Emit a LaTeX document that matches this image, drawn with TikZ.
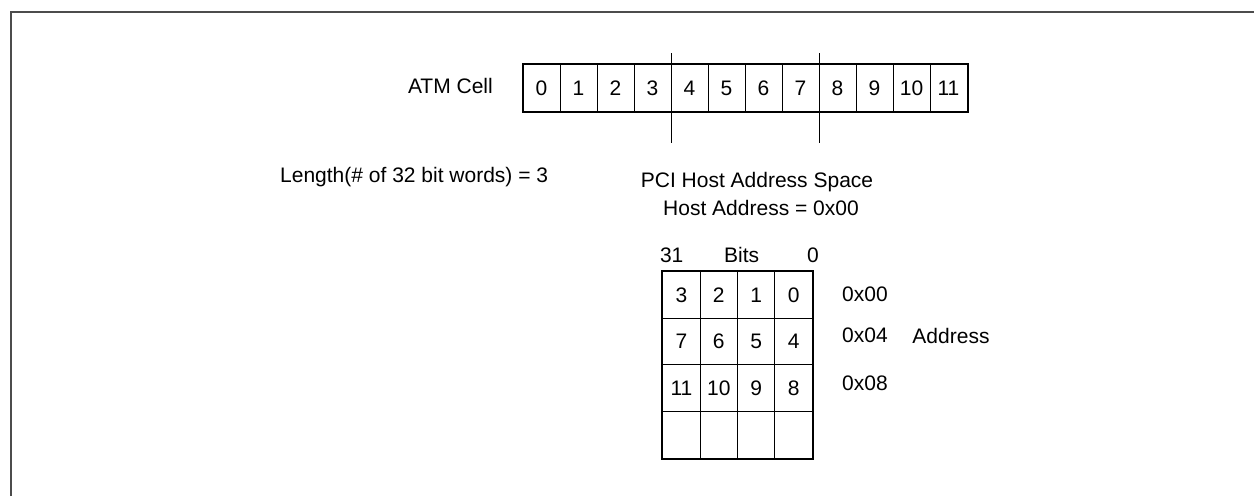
\documentclass[tikz,border=0pt]{standalone}
\usepackage{fontspec}
\setmainfont{Liberation Sans}
\begin{document}
\begin{tikzpicture}[x=1pt,y=-1pt,
  every node/.style={font=\fontsize{21}{25}\selectfont},
  txt/.style={inner sep=0pt},
  acell/.style={draw=black,line width=1pt,minimum width=37pt,minimum height=47.7pt,inner sep=0pt,anchor=center},
  gcell/.style={draw=black,line width=1pt,minimum width=37.4pt,minimum height=46.65pt,inner sep=0pt,anchor=center},
  frame/.style={draw=black!70,line width=2pt},
  divider/.style={draw=black,line width=1pt}]
\useasboundingbox (0,0) rectangle (1254,496);
% frame
\coordinate (ftl) at (11,12);
\coordinate (fbl) at (11,496);
\coordinate (ftr) at (1254,12);
\draw[frame] (fbl) -- (ftl) -- (ftr);
% ATM cell row
\foreach \i in {0,...,11}{
  \node[acell] (a\i) at ({523+37*\i+18.5},88) {\i};
}
\draw[line width=2pt] (a0.north west) rectangle (a11.south east);
\node[txt,anchor=base east] (atm) at (493,93.3) {ATM Cell};
% dividers
\coordinate (d1t) at (671,53); \coordinate (d1b) at (671,143);
\coordinate (d2t) at (819,53); \coordinate (d2b) at (819,143);
\draw[divider] (d1t) -- (d1b);
\draw[divider] (d2t) -- (d2b);
% texts
\node[txt,anchor=base west] (len) at (280,182.3) {Length(\# of 32 bit words) = 3};
\node[txt] (pci) at (757,182) {PCI Host Address Space};
\node[txt] (ha) at (761,208) {Host Address = 0x00};
% grid
\foreach \r/\a/\b/\c/\d in {0/3/2/1/0,1/7/6/5/4,2/11/10/9/8,3/{}/{}/{}/{}}{
  \node[gcell] (g\r0) at ({662.7+18.7},{271.7+46.65*\r+23.3}) {\a};
  \node[gcell] (g\r1) at ({662.7+37.4+18.7},{271.7+46.65*\r+23.3}) {\b};
  \node[gcell] (g\r2) at ({662.7+2*37.4+18.7},{271.7+46.65*\r+23.3}) {\c};
  \node[gcell] (g\r3) at ({662.7+3*37.4+18.7},{271.7+46.65*\r+23.3}) {\d};
}
\draw[line width=2pt] (g00.north west) rectangle (g33.south east);
\node[txt] (b31) at (671.7,255) {31};
\node[txt] (bits) at (741.7,255) {Bits};
\node[txt] (b0) at (813,255) {0};
\node[txt] (ad0) at (865,294) {0x00};
\node[txt] (ad4) at (865,335.7) {0x04};
\node[txt] (ad8) at (865,383) {0x08};
\node[txt] (addr) at (951,335.7) {Address};
\end{tikzpicture}
\end{document}
